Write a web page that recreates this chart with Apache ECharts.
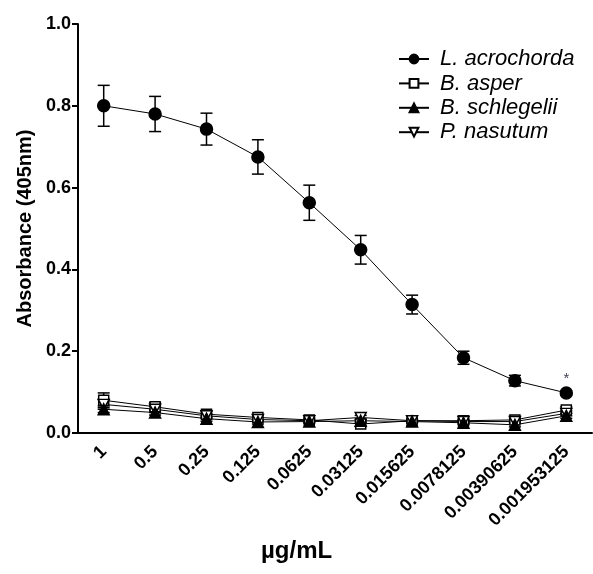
<!DOCTYPE html>
<html>
<head>
<meta charset="utf-8">
<script src="https://cdn.jsdelivr.net/npm/echarts@6/dist/echarts.min.js"></script>
<style>
html, body { margin: 0; padding: 0; background: #fff; }
#chart { width: 593px; height: 574px; }
</style>
</head>
<body>
<div id="chart"></div>
<script>
// 浓度 (µg/mL)
var concentrations = ['1', '0.5', '0.25', '0.125', '0.0625', '0.03125', '0.015625', '0.0078125', '0.00390625', '0.001953125'];
var yTicks = [0, 0.2, 0.4, 0.6, 0.8, 1.0];

var lAcrochorda    = [0.800, 0.780, 0.743, 0.675, 0.563, 0.448, 0.314, 0.184, 0.128, 0.098];
var lAcrochordaErr = [0.050, 0.043, 0.039, 0.042, 0.043, 0.035, 0.023, 0.016, 0.013, 0.005];

var bAsper    = [0.080, 0.064, 0.046, 0.038, 0.032, 0.022, 0.030, 0.030, 0.032, 0.056];
var bAsperErr = [0.018, 0.010, 0.008, 0.006, 0.005, 0.006, 0.004, 0.004, 0.004, 0.008];

var bSchlegelii    = [0.058, 0.050, 0.035, 0.027, 0.028, 0.030, 0.028, 0.025, 0.020, 0.042];
var bSchlegeliiErr = [0.008, 0.006, 0.006, 0.005, 0.004, 0.004, 0.004, 0.004, 0.005, 0.006];

var pNasutum    = [0.070, 0.058, 0.042, 0.033, 0.030, 0.038, 0.030, 0.028, 0.028, 0.048];
var pNasutumErr = [0.012, 0.008, 0.006, 0.005, 0.004, 0.005, 0.004, 0.004, 0.004, 0.006];

var font = 'Arial, "Liberation Sans", sans-serif';

// 误差线
function errorSeries(values, errs) {
    var data = values.map(function (v, i) {
        return [i, v - errs[i], v + errs[i]];
    });
    return {
        type: 'custom',
        data: data,
        z: 1,
        silent: true,
        renderItem: function (params, api) {
            var x = api.value(0);
            var lo = api.coord([x, api.value(1)]);
            var hi = api.coord([x, api.value(2)]);
            var w = 6;
            var style = { stroke: '#000', lineWidth: 1.5 };
            return {
                type: 'group',
                children: [
                    { type: 'line', shape: { x1: lo[0], y1: lo[1], x2: hi[0], y2: hi[1] }, style: style },
                    { type: 'line', shape: { x1: hi[0] - w, y1: hi[1], x2: hi[0] + w, y2: hi[1] }, style: style },
                    { type: 'line', shape: { x1: lo[0] - w, y1: lo[1], x2: lo[0] + w, y2: lo[1] }, style: style }
                ]
            };
        }
    };
}

function lineSeries(name, values, symbol, filled, size) {
    return {
        name: name,
        type: 'line',
        data: values,
        z: 3,
        symbol: symbol,
        symbolSize: size,
        showAllSymbol: true,
        lineStyle: { color: '#000', width: 1 },
        itemStyle: { color: filled ? '#000' : '#fff', borderColor: '#000', borderWidth: 1.5 },
        emphasis: { disabled: true }
    };
}

// 最后一个点加星号
var lAcroData = lAcrochorda.map(function (v, i) {
    if (i === lAcrochorda.length - 1) {
        return { value: v, label: { show: true, formatter: '*', position: 'top', distance: 0, color: '#445', fontSize: 15, fontFamily: font } };
    }
    return v;
});

var myChart = echarts.init(document.getElementById('chart'));
var option = {
    backgroundColor: '#fff',
    animation: false,
    grid: { left: 78, right: 1, top: 24, bottom: 141 },
    legend: {
        orient: 'vertical',
        left: 393,
        top: 43,
        itemWidth: 30,
        itemHeight: 11,
        itemGap: 2.4,
        data: ['L. acrochorda', 'B. asper', 'B. schlegelii', 'P. nasutum'],
        textStyle: {
            fontFamily: font, fontSize: 22, fontStyle: 'italic', color: '#000',
            lineHeight: 22, padding: [0, 0, 0, 6]
        }
    },
    xAxis: {
        type: 'category',
        data: concentrations,
        boundaryGap: true,
        axisLine: { lineStyle: { color: '#000', width: 2 } },
        axisTick: { alignWithLabel: true, length: 7, lineStyle: { color: '#000', width: 2 } },
        axisLabel: {
            rotate: 45, interval: 0, margin: 16,
            fontFamily: font, fontSize: 18, fontWeight: 'bold', color: '#000'
        },
        splitLine: { show: false }
    },
    yAxis: {
        type: 'value',
        min: 0, max: 1, interval: 0.2,
        name: 'Absorbance (405nm)',
        nameLocation: 'middle',
        nameGap: 38,
        nameTextStyle: { fontFamily: font, fontSize: 20, fontWeight: 'bold', color: '#000' },
        axisLine: { show: true, lineStyle: { color: '#000', width: 2 } },
        axisTick: { show: true, length: 6, lineStyle: { color: '#000', width: 2 } },
        axisLabel: {
            margin: 7, fontFamily: font, fontSize: 18, fontWeight: 'bold', color: '#000',
            formatter: function (v) { return yTicks.indexOf(v) >= 0 ? v.toFixed(1) : ''; }
        },
        splitLine: { show: false }
    },
    graphic: [{
        type: 'text',
        left: 261,
        top: 539,
        style: { text: 'µg/mL', font: 'bold 24px ' + font, fill: '#000' }
    }],
    series: [
        errorSeries(lAcrochorda, lAcrochordaErr),
        errorSeries(bAsper, bAsperErr),
        errorSeries(bSchlegelii, bSchlegeliiErr),
        errorSeries(pNasutum, pNasutumErr),
        lineSeries('B. asper', bAsper, 'rect', false, 10),
        lineSeries('P. nasutum', pNasutum, 'path://M0,0 L10,0 L5,9 Z', false, [11, 10]),
        lineSeries('B. schlegelii', bSchlegelii, 'triangle', true, 11),
        lineSeries('L. acrochorda', lAcroData, 'circle', true, 12)
    ]
};
myChart.setOption(option);
</script>
</body>
</html>
